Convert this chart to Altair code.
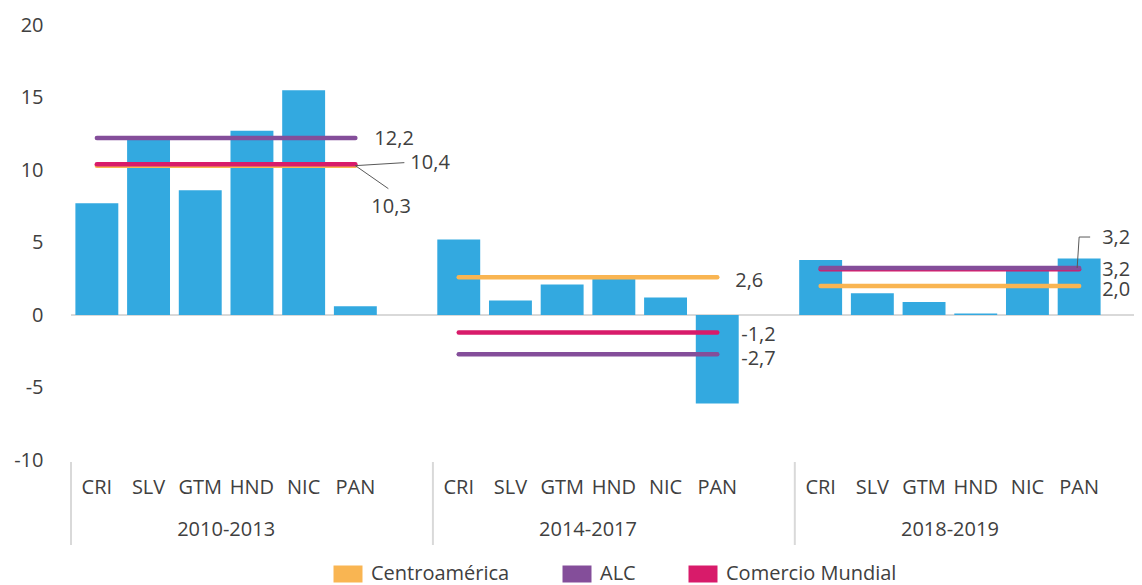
import altair as alt
import pandas as pd

# ---------------- data ----------------
countries = ["CRI", "SLV", "GTM", "HND", "NIC", "PAN"]
periods = ["2010-2013", "2014-2017", "2018-2019"]
growth_2010_2013 = [7.7, 12.1, 8.6, 12.7, 15.5, 0.6]
growth_2014_2017 = [5.2, 1.0, 2.1, 2.5, 1.2, -6.1]
growth_2018_2019 = [3.8, 1.5, 0.9, 0.1, 3.3, 3.9]

series_names = ["Centroamérica", "ALC", "Comercio Mundial"]
centroamerica = [10.3, 2.6, 2.0]
alc = [12.2, -2.7, 3.24]
comercio_mundial = [10.4, -1.2, 3.16]
series_colors = ["#F9B552", "#844E9A", "#D81B6A"]

y_ticks = [-10, -5, 0, 5, 10, 15, 20]

# ---------------- style ----------------
FONT = "Open Sans"
TEXT = "#404040"
BAR = "#33A9E0"
GRID = "#D9D9D9"
FS = 20
W, H = 1034, 435

# ---------------- tables ----------------
def key(p, c=""):
    return f"{p}|{c}"

domain_keys = []
for i, p in enumerate(periods):
    domain_keys += [key(p, c) for c in countries]
    if i < len(periods) - 1:
        domain_keys.append(key(p))

bar_rows = []
for p, vals in zip(periods, [growth_2010_2013, growth_2014_2017, growth_2018_2019]):
    for c, v in zip(countries, vals):
        bar_rows.append({"key": key(p, c), "value": v})
bars_df = pd.DataFrame(bar_rows)

series_vals = {"Centroamérica": centroamerica, "ALC": alc, "Comercio Mundial": comercio_mundial}
line_rows = []
for s, vals in series_vals.items():
    for p, v in zip(periods, vals):
        for c in (countries[0], countries[-1]):
            line_rows.append({"key": key(p, c), "value": v, "series": s, "grp": f"{s}-{p}"})
lines_df = pd.DataFrame(line_rows)

period_df = pd.DataFrame({"key": [key(p, "GTM") for p in periods], "label": periods})
sep_df = pd.DataFrame({"key": [key(p, "CRI") for p in periods]})

# ---------------- encodings ----------------
xscale = alt.Scale(domain=domain_keys, paddingInner=0, paddingOuter=0)
xaxis = alt.Axis(title=None, labelExpr="split(datum.value, '|')[1]", labelAngle=0,
                 ticks=False, domain=False, grid=False, labelPadding=17,
                 labelFont=FONT, labelFontSize=FS, labelColor=TEXT)
yscale = alt.Scale(domain=[-10, 20], nice=False, zero=False)
yaxis = alt.Axis(title=None, values=y_ticks, labelExpr="'' + datum.value", ticks=False,
                 domain=False, grid=False, labelPadding=28, labelFont=FONT,
                 labelFontSize=FS, labelColor=TEXT)


def X(bp=0.5):
    return alt.X("key:N", scale=xscale, axis=xaxis, bandPosition=bp)


def Y():
    return alt.Y("value:Q", scale=yscale, axis=yaxis)


color = alt.Color(
    "series:N",
    scale=alt.Scale(domain=series_names, range=series_colors),
    legend=alt.Legend(
        title=None, orient="none", legendX=254, legendY=526, direction="horizontal",
        columns=3, symbolType="M-1,0H1", symbolSize=841, symbolStrokeWidth=17,
        symbolOpacity=1, labelLimit=400,
        labelFont=FONT, labelFontSize=FS, labelColor=TEXT, labelOffset=0,
        columnPadding=18,
    ),
)

zero = alt.Chart(bars_df).mark_rule(color=GRID, strokeWidth=2).encode(
    y=alt.Y(datum=0, scale=yscale, axis=yaxis),
    x=alt.value(0), x2=alt.value(W + 29)
)

bars = alt.Chart(bars_df).mark_bar(color=BAR, width=alt.RelativeBandSize(0.83)).encode(
    x=X(), y=Y()
)

line_layers = []
for s in ["Centroamérica", "Comercio Mundial", "ALC"]:
    line_layers.append(
        alt.Chart(lines_df).transform_filter(alt.datum.series == s)
        .mark_line(strokeWidth=4.5, strokeCap="round")
        .encode(x=X(), y=Y(), color=color, detail="grp:N")
    )

# value labels (text from data), placed next to the end of each line
label_series = ["ALC", "Comercio Mundial", "Centroamérica",
                "Centroamérica", "Comercio Mundial", "ALC",
                "ALC", "Comercio Mundial", "Centroamérica"]
label_period = [0, 0, 0, 1, 1, 1, 2, 2, 2]
label_dx = [19, 55, 16, 18, 24, 24, 23, 23, 23]
label_dy = [1, -1, 41, 4, 3, 5, -30, 1, 4]

label_layers = []
for s, pi, dx, dy in zip(label_series, label_period, label_dx, label_dy):
    v = series_vals[s][pi]
    df = pd.DataFrame({"key": [key(periods[pi], countries[-1])], "value": [v],
                       "text": [f"{v:.1f}".replace(".", ",")]})
    label_layers.append(
        alt.Chart(df).mark_text(align="left", baseline="middle", dx=dx, dy=dy,
                                font=FONT, fontSize=FS, color=TEXT)
        .encode(x=X(), y=Y(), text="text:N")
    )

# leader lines
def leader(pi, v, **off):
    df = pd.DataFrame({"key": [key(periods[pi], countries[-1])], "value": [v]})
    return alt.Chart(df).mark_rule(color="#595959", strokeWidth=1, **off).encode(
        x=X(), x2=alt.X2("key", bandPosition=0.5), y=Y(), y2=alt.Y2("value")
    )

leaders = [
    leader(0, centroamerica[0], x2Offset=49, y2Offset=-3),
    leader(0, centroamerica[0], x2Offset=33, y2Offset=23),
    leader(2, alc[2], xOffset=-2, x2Offset=0, y2Offset=-31),
    leader(2, alc[2], xOffset=0, x2Offset=11, yOffset=-31, y2Offset=-31),
]

separators = alt.Chart(sep_df).mark_rule(color=GRID, strokeWidth=2).encode(
    x=X(0), y=alt.value(437), y2=alt.value(520)
)

period_text = alt.Chart(period_df).mark_text(
    baseline="middle", align="center", font=FONT, fontSize=FS, color=TEXT
).encode(x=X(1), y=alt.value(505), text="label:N")

chart = alt.layer(
    zero, bars, *line_layers, *leaders, *label_layers, separators, period_text
).properties(
    width=W, height=H,
    autosize=alt.AutoSizeParams(type="none"),
    padding={"left": 63, "top": 17, "right": 29, "bottom": 124},
).configure_view(stroke=None)

chart.save("out.html", embed_options={"renderer": "svg", "actions": False})
